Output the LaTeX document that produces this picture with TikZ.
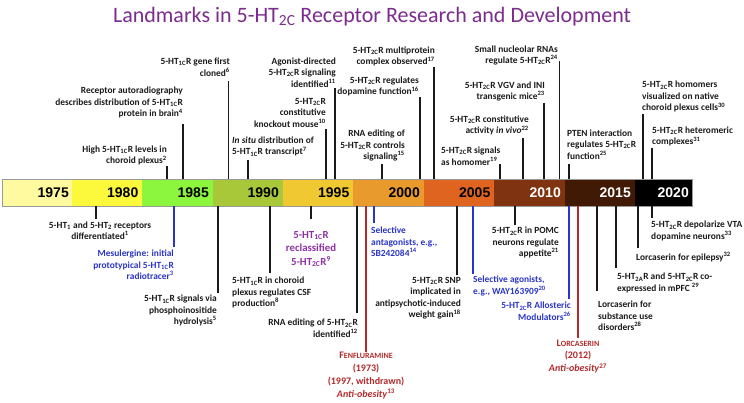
\documentclass[tikz,border=0pt]{standalone}
\usepackage{fontspec}
\setmainfont{Carlito}
\newfontfamily\yearfont{Liberation Sans}
\newcommand\htr[1]{5-HT\textsubscript{#1}R}
\newcommand\rf[1]{\textsuperscript{#1}}
\definecolor{txt}{HTML}{1A1A1A}
\definecolor{ttl}{HTML}{7B2C8C}
\definecolor{blu}{HTML}{2A35C8}
\definecolor{rd}{HTML}{B22A2A}
\definecolor{pur}{HTML}{8E2FA8}
\definecolor{c1975}{HTML}{FFFAA0}
\definecolor{c1980}{HTML}{FCF93C}
\definecolor{c1985}{HTML}{8CF53E}
\definecolor{c1990}{HTML}{A8C83A}
\definecolor{c1995}{HTML}{EFC832}
\definecolor{c2000}{HTML}{E89A2C}
\definecolor{c2005}{HTML}{DF6420}
\definecolor{c2010}{HTML}{7F3310}
\definecolor{c2015}{HTML}{401A04}
\definecolor{c2020}{HTML}{000000}
\begin{document}
\begin{tikzpicture}[x=1pt,y=-1pt,
  lbl/.style={inner sep=0pt, font=\fontsize{9.4}{11.5}\selectfont\bfseries, text=txt},
  lblblue/.style={lbl, text=blu},
  lblred/.style={inner sep=0pt, font=\fontsize{10}{12.8}\selectfont\bfseries, text=rd, align=center},
  lblpur/.style={inner sep=0pt, font=\fontsize{10.8}{13.5}\selectfont\bfseries, text=pur, align=center},
  evline/.style={draw=txt, line width=1.4pt},
  evblue/.style={draw=blu, line width=1.3pt},
  evred/.style={draw=rd, line width=1.3pt},
  yr/.style={inner sep=0pt, font=\yearfont\fontsize{14}{14}\selectfont\bfseries},
]
\useasboundingbox (0,0) rectangle (744,402);
% title
\node[inner sep=0pt, font=\fontsize{22}{24}\selectfont, text=ttl] (title) at (372,17) {Landmarks in 5-HT\textsubscript{2C} Receptor Research and Development};
% bar
\node[inner sep=0pt, minimum width=689.5pt, minimum height=27pt, anchor=north west] (bar) at (2.5,179) {};
\fill[c1975] (2.5,179) rectangle (72,206);
\fill[c1980] (72,179) rectangle (142,206);
\fill[c1985] (142,179) rectangle (212.5,206);
\fill[c1990] (212.5,179) rectangle (282.5,206);
\fill[c1995] (282.5,179) rectangle (353,206);
\fill[c2000] (353,179) rectangle (423.5,206);
\fill[c2005] (423.5,179) rectangle (494,206);
\fill[c2010] (494,179) rectangle (564.5,206);
\fill[c2015] (564.5,179) rectangle (634.5,206);
\fill[c2020] (634.5,179) rectangle (692,206);
\draw[gray!80, line width=0.8pt] (bar.north west) rectangle (bar.south east);
\node[yr, anchor=east] (y1975) at (69,192.5) {1975};
\node[yr, anchor=east] (y1980) at (138.5,192.5) {1980};
\node[yr, anchor=east] (y1985) at (209,192.5) {1985};
\node[yr, anchor=east] (y1990) at (279,192.5) {1990};
\node[yr, anchor=east] (y1995) at (349.5,192.5) {1995};
\node[yr, anchor=east] (y2000) at (420,192.5) {2000};
\node[yr, anchor=east] (y2005) at (490.5,192.5) {2005};
\node[yr, anchor=east, text=white] (y2010) at (561,192.5) {2010};
\node[yr, anchor=east, text=white] (y2015) at (631,192.5) {2015};
\node[yr, anchor=east, text=white] (y2020) at (689,192.5) {2020};

% ---------- top events ----------
\node[lbl, align=right, anchor=south east] (t1l) at (167,165.5) {High \htr{1C} levels in\\choroid plexus\rf{2}};
\coordinate (t1) at (167,166);
\draw[evline] (t1) -- (t1 |- bar.north);

\node[lbl, align=right, anchor=south east] (t2l) at (183,118.5) {Receptor autoradiography\\describes distribution of \htr{1C}\\protein in brain\rf{4}};
\coordinate (t2) at (183,124);
\draw[evline] (t2) -- (t2 |- bar.north);

\node[lbl, align=right, anchor=south east] (t3l) at (230,76.5) {\htr{1C} gene first\\cloned\rf{6}};
\coordinate (t3) at (228.5,81);
\draw[evline] (t3) -- (t3 |- bar.north);

\node[lbl, align=left, anchor=south west] (t4l) at (232,156.5) {\textit{In situ} distribution of\\\htr{1C} transcript\rf{7}};
\coordinate (t4) at (248,160);
\draw[evline] (t4) -- (t4 |- bar.north);

\node[lbl, align=right, anchor=south east] (t5l) at (326,127.5) {\htr{2C}\\constitutive\\knockout mouse\rf{10}};
\coordinate (t5) at (326,129);
\draw[evline] (t5) -- (t5 |- bar.north);

\node[lbl, align=right, anchor=south east] (t6l) at (336,87.5) {Agonist-directed\\\htr{2C} signaling\\identified\rf{11}};
\coordinate (t6) at (335,88);
\draw[evline] (t6) -- (t6 |- bar.north);

\node[lbl, align=right, anchor=south east] (t7l) at (419,96.5) {\htr{2C} regulates\\dopamine function\rf{16}};
\coordinate (t7) at (420,97);
\draw[evline] (t7) -- (t7 |- bar.north);

\node[lbl, align=right, anchor=south east] (t8l) at (435,66.5) {\htr{2C} multiprotein\\complex observed\rf{17}};
\coordinate (t8) at (434,67);
\draw[evline] (t8) -- (t8 |- bar.north);

\node[lbl, align=right, anchor=south east] (t9l) at (405,161.5) {RNA editing of\\\htr{2C} controls\\signaling\rf{15}};
\coordinate (t9) at (382,164);
\draw[evline] (t9) -- (t9 |- bar.north);

\node[lbl, align=left, anchor=south west] (t10l) at (441,165.5) {\htr{2C} signals\\as homomer\rf{19}};
\coordinate (t10) at (500,164);
\draw[evline] (t10) -- (t10 |- bar.north);

\node[lbl, align=right, anchor=south east] (t11l) at (529,135.5) {\htr{2C} constitutive\\activity \textit{in vivo}\rf{22}};
\coordinate (t11) at (523,138);
\draw[evline] (t11) -- (t11 |- bar.north);

\node[lbl, align=right, anchor=south east] (t12l) at (545,101.5) {\htr{2C} VGV and INI\\transgenic mice\rf{23}};
\coordinate (t12) at (544,103);
\draw[evline] (t12) -- (t12 |- bar.north);

\node[lbl, align=right, anchor=south east] (t13l) at (558,65.5) {Small nucleolar RNAs\\regulate \htr{2C}\rf{24}};
\coordinate (t13) at (559.5,61);
\draw[evline] (t13) -- (t13 |- bar.north);

\node[lbl, align=left, anchor=south west] (t14l) at (567,159.5) {PTEN interaction\\regulates \htr{2C}\\function\rf{25}};
\coordinate (t14) at (569,164);
\draw[evline] (t14) -- (t14 |- bar.north);

\node[lbl, align=left, anchor=south west] (t15l) at (642,112.5) {\htr{2C} homomers\\visualized on native\\choroid plexus cells\rf{30}};
\coordinate (t15) at (643,114);
\draw[evline] (t15) -- (t15 |- bar.north);

\node[lbl, align=left, anchor=south west] (t16l) at (652,146.5) {\htr{2C} heteromeric\\complexes\rf{31}};
\coordinate (t16) at (652,148);
\draw[evline] (t16) -- (t16 |- bar.north);

% ---------- bottom events ----------
\node[lbl, align=center, anchor=north] (b1l) at (100,221.5) {5-HT\textsubscript{1} and 5-HT\textsubscript{2} receptors\\differentiated\rf{1}};
\coordinate (b1) at (96,219);
\draw[evline] (b1) -- (b1 |- bar.south);

\node[lblblue, align=right, anchor=north east] (b2l) at (174,250) {Mesulergine: initial\\prototypical \htr{1C}\\radiotracer\rf{3}};
\coordinate (b2) at (174,247);
\draw[evblue] (b2) -- (b2 |- bar.south);

\node[lbl, align=right, anchor=north east] (b3l) at (217,295) {\htr{1C} signals via\\phosphoinositide\\hydrolysis\rf{5}};
\coordinate (b3) at (218,293);
\draw[evline] (b3) -- (b3 |- bar.south);

\node[lbl, align=left, anchor=north west] (b4l) at (232,277) {\htr{1C} in choroid\\plexus regulates CSF\\production\rf{8}};
\coordinate (b4) at (270,273);
\draw[evline] (b4) -- (b4 |- bar.south);

\node[lblpur, anchor=north] (b5l) at (311,231) {\htr{1C}\\reclassified\\\htr{2C}\rf{9}};
\coordinate (b5) at (311,219);
\draw[evline] (b5) -- (b5 |- bar.south);

\node[lbl, align=right, anchor=north east] (b6l) at (358,319) {RNA editing of \htr{2C}\\identified\rf{12}};
\coordinate (b6) at (357,313);
\draw[evline] (b6) -- (b6 |- bar.south);

\node[lblred, anchor=north] (b7l) at (366,352) {F{\fontsize{8}{10}\selectfont ENFLURAMINE}\\(1973)\\(1997, withdrawn)\\\textit{Anti-obesity}\rf{13}};
\coordinate (b7) at (366,352);
\draw[evred] (b7) -- (b7 |- bar.south);

\node[lblblue, align=left, anchor=north west] (b8l) at (371,227) {Selective\\antagonists, e.g.,\\SB242084\rf{14}};
\coordinate (b8) at (374,223);
\draw[evblue] (b8) -- (b8 |- bar.south);

\node[lbl, align=right, anchor=north east] (b9l) at (461,277) {\htr{2C} SNP\\implicated in\\antipsychotic-induced\\weight gain\rf{18}};
\coordinate (b9) at (457,275);
\draw[evline] (b9) -- (b9 |- bar.south);

\node[lblblue, align=left, anchor=north west] (b10l) at (473,276) {Selective agonists,\\e.g., WAY163909\rf{20}};
\coordinate (b10) at (473,274);
\draw[evblue] (b10) -- (b10 |- bar.south);

\node[lbl, align=right, anchor=north east] (b11l) at (559,227) {\htr{2C} in POMC\\neurons regulate\\appetite\rf{21}};
\coordinate (b11) at (515,225);
\draw[evline] (b11) -- (b11 |- bar.south);

\node[lblblue, align=right, anchor=north east] (b12l) at (571,302) {\htr{2C} Allosteric\\Modulators\rf{26}};
\coordinate (b12) at (569,299);
\draw[evblue] (b12) -- (b12 |- bar.south);

\node[lblred, anchor=north] (b13l) at (578,339.5) {L{\fontsize{8}{10}\selectfont ORCASERIN}\\(2012)\\\textit{Anti-obesity}\rf{27}};
\coordinate (b13) at (578,338);
\draw[evred] (b13) -- (b13 |- bar.south);

\node[lbl, align=left, anchor=north west] (b14l) at (598,301) {Lorcaserin for\\substance use\\disorders\rf{28}};
\coordinate (b14) at (597,291);
\draw[evline] (b14) -- (b14 |- bar.south);

\node[lbl, align=left, anchor=north west] (b15l) at (617,273) {5-HT\textsubscript{2A}R and \htr{2C} co-\\expressed in mPFC \rf{29}};
\coordinate (b15) at (616,268);
\draw[evline] (b15) -- (b15 |- bar.south);

\node[lbl, align=left, anchor=north west] (b16l) at (636,252) {Lorcaserin for epilepsy\rf{32}};
\coordinate (b16) at (638,248);
\draw[evline] (b16) -- (b16 |- bar.south);

\node[lbl, align=left, anchor=north west] (b17l) at (651,221) {\htr{2C} depolarize VTA\\dopamine neurons\rf{33}};
\coordinate (b17) at (652,218);
\draw[evline] (b17) -- (b17 |- bar.south);
\end{tikzpicture}
\end{document}
